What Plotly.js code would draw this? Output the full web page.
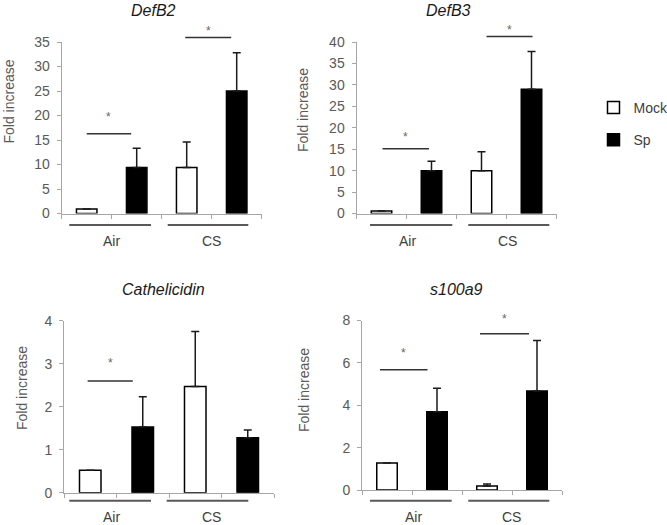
<!DOCTYPE html>
<html>
<head>
<meta charset="utf-8">
<script src="https://cdn.plot.ly/plotly-3.0.1.min.js"></script>
<style>html,body{margin:0;padding:0;background:#fff;}#chart{width:667px;height:525px;}</style>
</head>
<body>
<div id="chart"></div>
<script>
// ---- data ----
const groups = ["Air", "CS"];
const seriesNames = ["Mock", "Sp"];
const genes = ["DefB2", "DefB3", "Cathelicidin", "s100a9"];

const mockDefB2 = [0.9, 9.4];
const mockErrDefB2 = [null, 5.2];
const spDefB2 = [9.4, 25.0];
const spErrDefB2 = [3.9, 7.8];

const mockDefB3 = [0.6, 10.0];
const mockErrDefB3 = [null, 4.4];
const spDefB3 = [10.0, 29.0];
const spErrDefB3 = [2.2, 8.8];

const mockCath = [0.52, 2.47];
const mockErrCath = [null, 1.28];
const spCath = [1.53, 1.28];
const spErrCath = [0.70, 0.18];

const mockS100 = [1.27, 0.19];
const mockErrS100 = [null, 0.09];
const spS100 = [3.69, 4.67];
const spErrS100 = [1.11, 2.39];

const yTickStep = [5, 5, 1, 2];
const yMax = [35, 40, 4, 8];

// significance markers: [x0, x1] in bar-slot units, y in data units
const sigDefB2 = [{x0: 0.0, x1: 0.89, y: 16.3}, {x0: 1.97, x1: 2.89, y: 35.9}];
const sigDefB3 = [{x0: 0.02, x1: 0.95, y: 15.1}, {x0: 2.10, x1: 3.02, y: 41.3}];
const sigCath = [{x0: -0.05, x1: 0.81, y: 2.6}];
const sigS100 = [{x0: -0.14, x1: 0.81, y: 5.68}, {x0: 1.86, x1: 2.84, y: 7.37}];

// ---- layout (pixel geometry) ----
const W = 667, H = 525;
const FONT = "Liberation Sans, Arial, sans-serif";
const panels = [
  {mock: mockDefB2, mockErr: mockErrDefB2, sp: spDefB2, spErr: spErrDefB2, sig: sigDefB2, starGap: [18, 8],
   box: {l: 61.7, r: 261.7, t: 42, b: 213.5}, title: {x: 153, y: 11}, ytitle: {x: 8.5, y: 102},
   under: {y: 225, a: [69.3, 151], c: [167.7, 248.3]}, glab: {y: 241, a: 111, c: 211.7}},
  {mock: mockDefB3, mockErr: mockErrDefB3, sp: spDefB3, spErr: spErrDefB3, sig: sigDefB3, starGap: [13, 7.5],
   box: {l: 356.5, r: 556.5, t: 42, b: 213.5}, title: {x: 448, y: 11}, ytitle: {x: 303, y: 110},
   under: {y: 225, a: [370, 452.3], c: [468.3, 549.3]}, glab: {y: 241, a: 407.3, c: 507.3}},
  {mock: mockCath, mockErr: mockErrCath, sp: spCath, spErr: spErrCath, sig: sigCath, starGap: [19],
   box: {l: 64, r: 274, t: 320.7, b: 492.7}, title: {x: 163.3, y: 289}, ytitle: {x: 22, y: 388},
   under: {y: 500.7, a: [69.3, 151], c: [166.7, 248.3]}, glab: {y: 517, a: 111.7, c: 211.7}},
  {mock: mockS100, mockErr: mockErrS100, sp: spS100, spErr: spErrS100, sig: sigS100, starGap: [18, 16],
   box: {l: 362, r: 562, t: 320.5, b: 490}, title: {x: 456, y: 289}, ytitle: {x: 304, y: 390},
   under: {y: 500.7, a: [370, 451.7], c: [468.3, 549.3]}, glab: {y: 517, a: 413.3, c: 511.7}}
];

const px = v => v / W;
const py = v => 1 - v / H;

const traces = [];
const layout = {
  width: W, height: H,
  margin: {l: 0, r: 0, t: 0, b: 0, autoexpand: false},
  paper_bgcolor: "#fff", plot_bgcolor: "rgba(0,0,0,0)",
  font: {family: FONT, color: "#404040", size: 14},
  showlegend: true,
  legend: {x: px(593.5), y: py(92), xanchor: "left", yanchor: "top",
           font: {family: FONT, size: 14, color: "#404040"},
           bgcolor: "rgba(0,0,0,0)", tracegroupgap: 11, traceorder: "grouped"},
  bargap: 0,
  annotations: [], shapes: []
};

panels.forEach((p, i) => {
  const ax = i === 0 ? "" : String(i + 1);
  const xa = "x" + ax, ya = "y" + ax;
  const mockX = groups.map((g, k) => 2 * k);
  const spX = groups.map((g, k) => 2 * k + 1);
  const errStyle = (arr) => ({type: "data", symmetric: false, array: arr,
    arrayminus: arr.map(() => 0), color: "#1a1a1a", thickness: 1.5, width: 4, visible: true});
  traces.push({type: "bar", name: seriesNames[0], x: mockX, y: p.mock, width: 0.41,
    xaxis: xa, yaxis: ya, legendgroup: "mock", showlegend: i === 0,
    marker: {color: "#ffffff", line: {color: "#000000", width: 1.5}},
    error_y: errStyle(p.mockErr), hoverinfo: "skip"});
  traces.push({type: "bar", name: seriesNames[1], x: spX, y: p.sp, width: 0.41,
    xaxis: xa, yaxis: ya, legendgroup: "sp", showlegend: i === 0,
    marker: {color: "#000000", line: {color: "#000000", width: 1.5}},
    error_y: errStyle(p.spErr), hoverinfo: "skip"});

  layout["xaxis" + ax] = {
    domain: [px(p.box.l), px(p.box.r)], anchor: ya, range: [-0.5, 3.5],
    tickvals: [-0.5, 0.5, 1.5, 2.5, 3.5], ticks: "outside", ticklen: 4, tickwidth: 1,
    tickcolor: "#a6a6a6", showticklabels: false, showline: true, linecolor: "#a6a6a6",
    linewidth: 1, showgrid: false, zeroline: false, fixedrange: true
  };
  layout["yaxis" + ax] = {
    domain: [py(p.box.b), py(p.box.t)], anchor: xa, range: [0, yMax[i]], dtick: yTickStep[i],
    tick0: 0, ticks: "outside", ticklen: 4, tickwidth: 1, tickcolor: "#a6a6a6",
    showline: true, linecolor: "#a6a6a6", linewidth: 1, showgrid: false, zeroline: false,
    tickfont: {family: FONT, size: 14, color: "#595959"}, ticklabelstandoff: 4, fixedrange: true
  };

  // subplot title
  layout.annotations.push({text: "<i>" + genes[i] + "</i>", xref: "paper", yref: "paper",
    x: px(p.title.x), y: py(p.title.y), xanchor: "center", yanchor: "middle", showarrow: false,
    font: {family: FONT, size: 16, color: "#1a1a1a"}});
  // y axis title
  layout.annotations.push({text: "Fold increase", xref: "paper", yref: "paper", textangle: -90,
    x: px(p.ytitle.x), y: py(p.ytitle.y), xanchor: "center", yanchor: "middle", showarrow: false,
    font: {family: FONT, size: 14, color: "#595959"}});
  // group underlines & labels
  [p.under.a, p.under.c].forEach(seg => {
    layout.shapes.push({type: "line", xref: "paper", yref: "paper",
      x0: px(seg[0]), x1: px(seg[1]), y0: py(p.under.y), y1: py(p.under.y),
      line: {color: "#595959", width: 2}});
  });
  [[groups[0], p.glab.a], [groups[1], p.glab.c]].forEach(([t, x]) => {
    layout.annotations.push({text: t, xref: "paper", yref: "paper", x: px(x), y: py(p.glab.y),
      xanchor: "center", yanchor: "middle", showarrow: false,
      font: {family: FONT, size: 14, color: "#404040"}});
  });
  // significance lines & stars
  const slot = (p.box.r - p.box.l) / 4;
  const toXpx = v => p.box.l + (v + 0.5) * slot;
  const toYpx = v => p.box.b - v / yMax[i] * (p.box.b - p.box.t);
  p.sig.forEach((s, k) => {
    const yy = toYpx(s.y);
    layout.shapes.push({type: "line", xref: "paper", yref: "paper",
      x0: px(toXpx(s.x0)), x1: px(toXpx(s.x1)), y0: py(yy), y1: py(yy),
      line: {color: "#333333", width: 1.5}});
    layout.annotations.push({text: "*", xref: "paper", yref: "paper",
      x: px((toXpx(s.x0) + toXpx(s.x1)) / 2), y: py(yy - p.starGap[k] + 1), xanchor: "center", yanchor: "middle",
      showarrow: false, font: {family: FONT, size: 12, color: "#666666"}});
  });
});

Plotly.newPlot("chart", traces, layout, {displayModeBar: false, staticPlot: true});
</script>
</body>
</html>
